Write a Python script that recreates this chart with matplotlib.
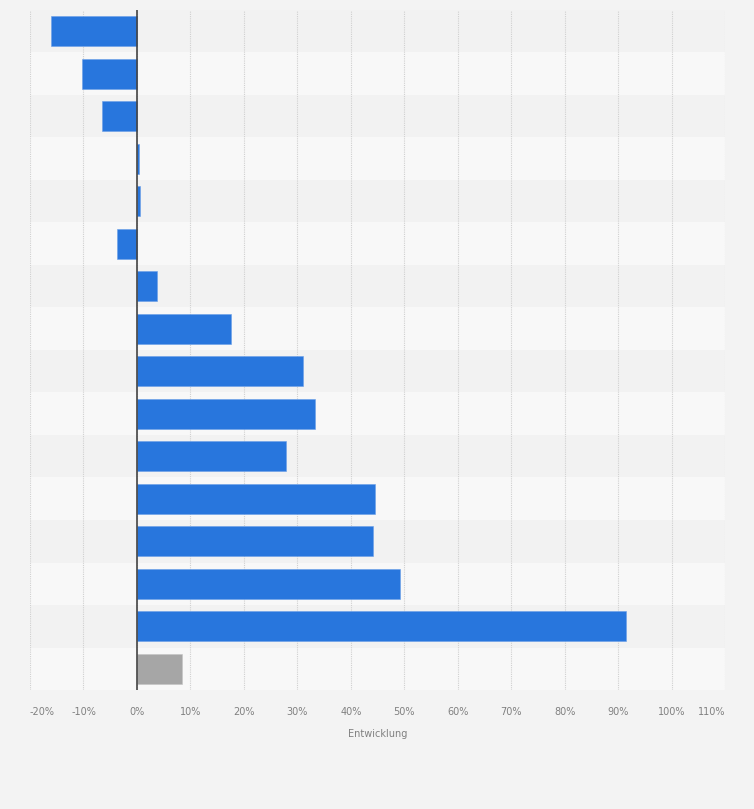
import matplotlib.pyplot as plt
import numpy as np

# values (percent change), top to bottom
values = [-16.0, -10.3, -6.5, 0.3, 0.5, -3.7, 3.7, 17.6, 31.0, 33.3,
          27.9, 44.5, 44.1, 49.2, 91.4, 8.5]
bar_colors = ["#2876dd"] * 15 + ["#a6a6a6"]
edge_colors = ["#6a9fe8"] * 15 + ["#c4c4c4"]
xticks = list(range(-20, 120, 10))
xtick_labels = [f"{t}%" for t in xticks]

fig = plt.figure(figsize=(7.54, 8.09), dpi=100, facecolor="#f3f3f3")
ax = fig.add_axes([30 / 754, 1 - 690 / 809, 695 / 754, 680 / 809])
ax.set_facecolor("#f3f3f3")

n = len(values)
y = np.arange(n)

# alternating row bands
for i in range(n):
    ax.axhspan(i - 0.5, i + 0.5, color="#f2f2f2" if i % 2 == 0 else "#f8f8f8",
               zorder=0, lw=0)

for t in xticks:
    ax.axvline(t, color="#d0d0d0", lw=0.8, ls=(0, (1, 1)), zorder=1)

ax.barh(y, values, height=0.7, color=bar_colors, edgecolor=edge_colors,
        linewidth=0.4, zorder=2)
ax.axvline(0, color="#444444", lw=1.2, zorder=3)

ax.set_xlim(-20, 110)
ax.set_ylim(n - 0.5, -0.5)
ax.set_xticks(xticks)
ax.set_xticklabels(xtick_labels, fontsize=7, color="#808080")
labels = ax.get_xticklabels()
labels[0].set_horizontalalignment("left")
labels[-1].set_horizontalalignment("right")
ax.tick_params(axis="x", length=0, pad=12)
ax.set_yticks([])
for s in ax.spines.values():
    s.set_visible(False)
ax.set_xlabel("Entwicklung", fontsize=7, color="#808080", labelpad=9)

fig.savefig("out.png", dpi=100, facecolor=fig.get_facecolor())
